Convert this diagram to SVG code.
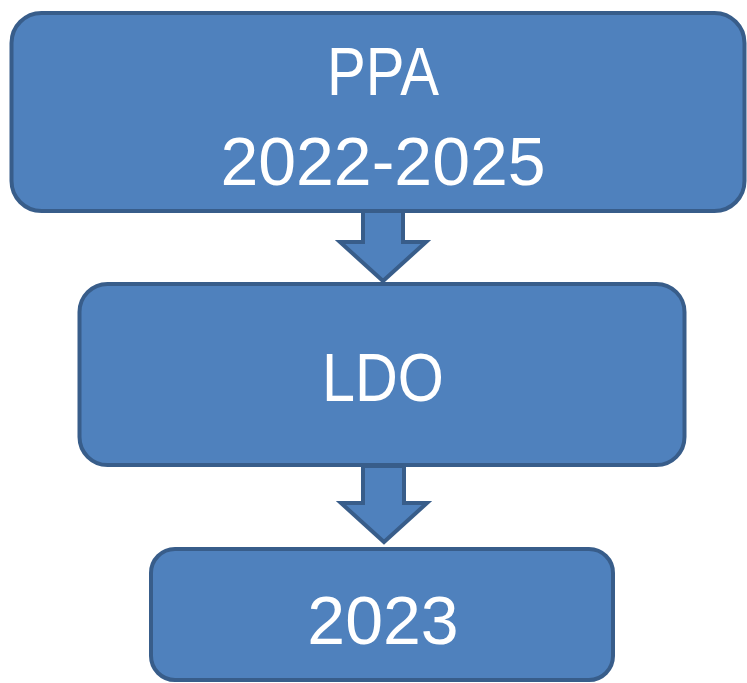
<svg xmlns="http://www.w3.org/2000/svg" width="747" height="683" viewBox="0 0 747 683">
<style>
.box{fill:#4F81BD;stroke:#385D8A;stroke-width:4}
.arr{fill:#4F81BD;stroke:#385D8A;stroke-width:4;stroke-linejoin:miter}
.t{font-family:"Liberation Sans",Arial,sans-serif;font-size:68px;fill:#FFFFFF;text-anchor:middle}
</style>
<rect width="747" height="683" fill="#FFFFFF"/>
<g id="connectors">
<path class="arr" d="M363,204 H403 V242 H426 L383,281 L340,242 H363 Z"/>
<path class="arr" d="M363,466 H404 V503 H427 L384,542 L341,503 H363 Z"/>
</g>
<g id="node-ppa">
<rect class="box" x="11.5" y="13" width="733" height="198" rx="30"/>
<text class="t" x="383" y="95" textLength="112" lengthAdjust="spacingAndGlyphs">PPA</text>
<text class="t" x="383" y="185">2022-2025</text>
</g>
<g id="node-ldo">
<rect class="box" x="79.5" y="284" width="605" height="181" rx="28"/>
<text class="t" x="383" y="401" textLength="122" lengthAdjust="spacingAndGlyphs">LDO</text>
</g>
<g id="node-2023">
<rect class="box" x="151" y="549" width="462" height="131" rx="24"/>
<text class="t" x="383" y="644">2023</text>
</g>
</svg>
